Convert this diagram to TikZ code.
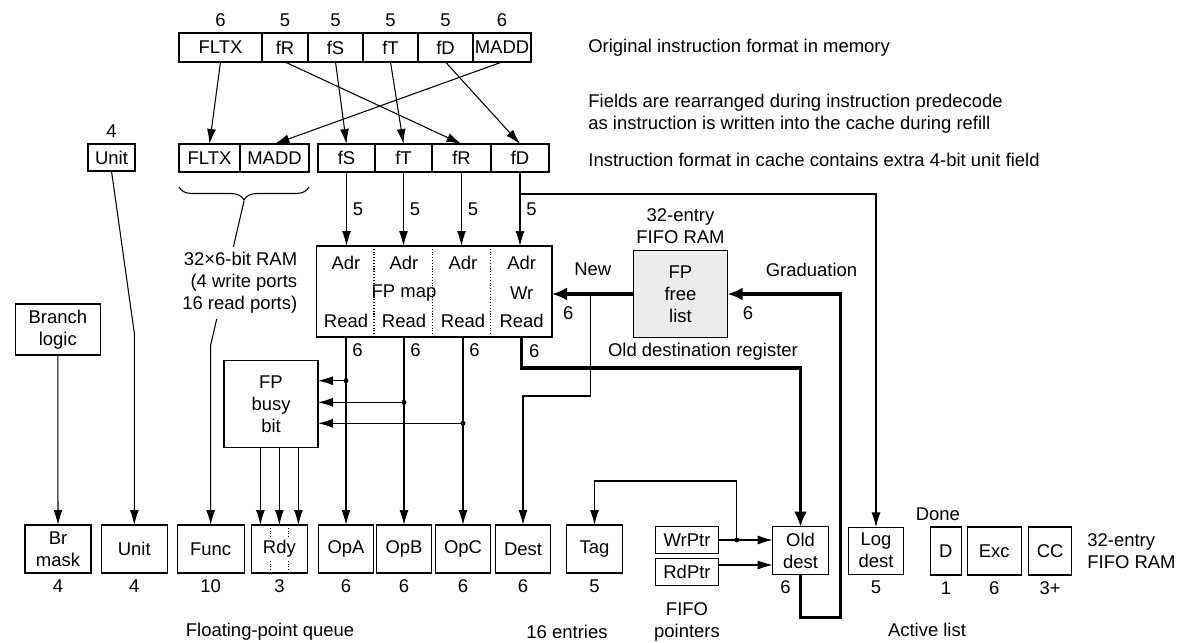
\documentclass[tikz,border=0pt]{standalone}
\usepackage{fontspec}
\setmainfont{Liberation Sans}
\usetikzlibrary{positioning, arrows.meta, calc, decorations.pathreplacing}

\begin{document}
\begin{tikzpicture}[
    x=0.2mm, y=-0.2mm,
    line width=0.6pt,
    font=\fontsize{10.5}{12.5}\selectfont,
    every node/.style={align=center},
    box/.style={
        draw,
        inner sep=0pt,
        outer sep=0pt
    },
    wd/.style={minimum width=#1*0.2mm},
    ht/.style={minimum height=#1*0.2mm},
    topcell/.style={box, ht=29, label=above:#1},
    cachecell/.style={box, ht=28},
    fld/.style={box, ht=48, label=below:#1},
    arrow/.style={
        -{Latex[length=3mm, width=1.8mm]}
    },
    bus/.style={
        -{Latex[length=3mm, width=2.6mm]},
        line width=1.9pt
    }
]
\useasboundingbox (0,0) rectangle (1193,643);

% instruction format in memory
\node[topcell=6, wd=83] (fltx) at (220.5,47.5) {FLTX};
\node[topcell=5, wd=46, right=0pt of fltx] (fr) {fR};
\node[topcell=5, wd=55, right=0pt of fr] (fs) {fS};
\node[topcell=5, wd=55, right=0pt of fs] (ft) {fT};
\node[topcell=5, wd=55, right=0pt of ft] (fd) {fD};
\node[topcell=6, wd=58, right=0pt of fd] (madd) {MADD};

% instruction format in cache
\node[box, wd=47, ht=27, label=above:4] (unit) at (111.5,157.5) {Unit};
\node[cachecell, wd=61] (fltxc) at (209.5,158) {FLTX};
\node[cachecell, wd=69, right=0pt of fltxc] (maddc) {MADD};
\node[cachecell, wd=57] (fsc) at (346.5,158) {fS};
\node[cachecell, wd=57, right=0pt of fsc] (ftc) {fT};
\node[cachecell, wd=59, right=0pt of ftc] (frc) {fR};
\node[cachecell, wd=58, right=0pt of frc] (fdc) {fD};

\node[anchor=west] (orig) at (582,48) {Original instruction format in memory};
\node[anchor=west, align=left] (rearr) at (582,114) {Fields are rearranged during instruction predecode\\as instruction is written into the cache during refill};
\node[anchor=west] (incache) at (582,160) {Instruction format in cache contains extra 4-bit unit field};

\draw[arrow] (fltx.south) -- (fltxc.north);
\draw[arrow] (fr.south) -- (frc.north);
\draw[arrow] (fs.south) -- (fsc.north);
\draw[arrow] (ft.south) -- (ftc.north);
\draw[arrow] (fd.south) -- (fdc.north);
\draw[arrow] (madd.south) -- (maddc.north);

% floating-point queue
\node[fld=4, wd=66] (brmask) at (58,549) {Br\\mask};
\node[fld=4, wd=66] (unitq) at (134.3,549) {Unit};
\node[fld=10, wd=67] (func) at (210.7,549) {Func};
\node[fld=3, wd=56] (rdy) at (279.4,549) {Rdy};
\node[fld=6, wd=55] (opa) at (346,549) {OpA};
\node[fld=6, wd=55] (opb) at (404,549) {OpB};
\node[fld=6, wd=55] (opc) at (463,549) {OpC};
\node[fld=6, wd=55] (dest) at (523,549) {Dest};
\node[fld=5, wd=55.6] (tag) at (594.5,549) {Tag};

\foreach \d in {1,2} {
    \draw[densely dotted] ($(rdy.north west)!\d/3!(rdy.north east)$) -- ++(0,14);
    \draw[densely dotted] ($(rdy.south west)!\d/3!(rdy.south east)$) -- ++(0,-13);
}

\node (fpq) at (270,632) {Floating-point queue};
\node (entries) at (567,632) {16 entries};

% branch logic and unit field
\node[box, wd=85, ht=51] (branch) at (57.8,329.5) {Branch\\logic};
\draw[arrow] (branch.south) -- (brmask.north);

\coordinate (unitbend) at ($(unitq.north)+(0,-192)$);
\draw[arrow] (unit.south) -- (unitbend) -- (unitq.north);

% function field through the RAM
\draw[decorate, decoration={brace, mirror, amplitude=2.6mm}] ([yshift=-3mm]fltxc.south west) -- ([yshift=-3mm]maddc.south east);
\coordinate (ramtip) at ($(fltxc.south west)!0.5!(maddc.south east)+(0,29)$);
\coordinate (rambend) at ($(func.north)+(0,-180)$);
\draw[arrow] (ramtip) -- (rambend) -- (func.north);
\node[fill=white, inner sep=3pt, align=right, anchor=east] (ram) at (303,283) {32×6-bit RAM\\(4 write ports\\16 read ports)};

% FP map
\node[box, wd=235.3, ht=91] (fpmap) at (434.35,291.5) {};
\foreach \d in {57.3,116,174}
    \draw[densely dotted] ($(fpmap.north west)+(\d,0)$) -- ($(fpmap.south west)+(\d,0)$);
\foreach \i/\x in {1/346, 2/404, 3/463, 4/521.7} {
    \node (adr\i) at (\x,263) {Adr};
    \node (read\i) at (\x,321) {Read};
}
\node (maptxt) at (404,293) {FP map};
\node (wrtxt) at (521.7,293) {Wr};

\foreach \c in {fsc, ftc, frc, fdc}
    \draw[arrow] (\c.south) -- (\c.south |- fpmap.north) node[midway, right] {5};

% FP busy bit
\node[box, wd=94, ht=87] (busy) at (271,404.3) {FP\\busy\\bit};
\path (busy.east) ++(0,-23.6) coordinate (bin1) ++(0,21.6) coordinate (bin2) ++(0,21) coordinate (bin3);

\draw[arrow] (opa |- fpmap.south) node[below right] {6} -- (opa.north);
\draw[arrow] (opb |- fpmap.south) node[below right] {6} -- (opb.north);
\draw[arrow] (opc |- fpmap.south) node[below right] {6} -- (opc.north);
\foreach \q/\b in {opa/bin1, opb/bin2, opc/bin3} {
    \draw[arrow] (\q |- \b) -- (\b);
    \fill (\q |- \b) circle (0.5mm);
}
\foreach \d in {-19,0,19} {
    \path (rdy.north) ++(\d,0) coordinate (rin);
    \draw[arrow] (rin |- busy.south) -- (rin);
}

% FP free list
\node[box, fill=gray!15, wd=94, ht=87] (freelist) at (680.5,294) {FP\\free\\list};
\node[above=0pt of freelist] (fiforam) {32-entry\\FIFO RAM};
\draw[bus] (freelist.west) -- (freelist.west -| fpmap.east)
    node[pos=0.5, above=6pt] {New}
    node[pos=0.8, below=3pt] {6};
\node (grad) at (811.5,270) {Graduation};
\node (gradw) at (748,313) {6};
\node (oldreg) at (703,352) {Old destination register};

\coordinate (newtap) at ($(freelist.west)!0.525!(freelist.west -| fpmap.east)$);
\draw[arrow] (newtap) -- ++(0,102) -| (dest.north);

% active list
\node[box, wd=55.6, ht=47.6, label={[xshift=-3mm]below:6}] (olddest) at (800.5,550.5) {Old\\dest};
\node[box, wd=62.6, ht=26.6] (wrptr) at (687,540) {WrPtr};
\node[box, wd=62.6, ht=27.4] (rdptr) at (687,572) {RdPtr};
\node (fifoptr) at (687,622) {FIFO\\pointers};

\node[fld=5, wd=55, ht=46.7] (logdest) at (876,550.7) {Log\\dest};
\node[fld=1, wd=30.7, label={[xshift=-1.6mm]above:Done}] (d) at (945.9,551) {D};
\node[fld=6, wd=54.5] (exc) at (994.3,551) {Exc};
\node[fld=3+, wd=42.6] (cc) at (1050.2,551) {CC};
\node[right=1.9mm of cc, align=left] (alram) {32-entry\\FIFO RAM};
\node (active) at (927,630) {Active list};

\draw[bus] (read4 |- fpmap.south) node[below right] {6} -- ++(0,31) -| (olddest.north);
\draw[bus] (olddest.south) -- ++(0,43) -- ++(40,0) |- (freelist.east);

\coordinate (fdtap) at ($(fdc.south)+(0,22)$);
\draw[arrow] (fdtap) -| (logdest.north);

\coordinate (wrtap) at ($(wrptr.east)+(18.4,0)$);
\draw[arrow] (wrptr.east) -- (wrptr.east -| olddest.west);
\fill (wrtap) circle (0.5mm);
\draw[arrow] (wrtap) -- ++(0,-59) -| (tag.north);
\coordinate (rdout) at ($(rdptr.east)+(0,-7)$);
\draw[arrow] (rdout) -- (rdout -| olddest.west);

\end{tikzpicture}
\end{document}
